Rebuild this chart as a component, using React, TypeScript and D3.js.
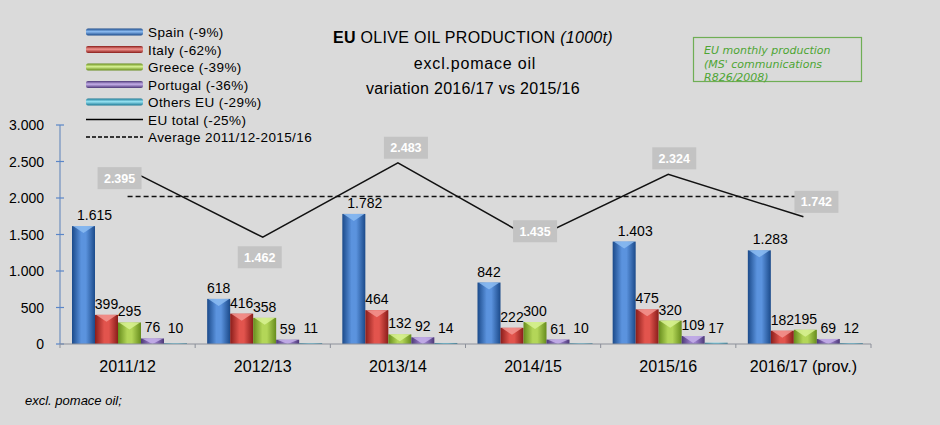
import React from 'react';
import * as d3 from 'd3';

const categories = ['2011/12', '2012/13', '2013/14', '2014/15', '2015/16', '2016/17 (prov.)'];
const spain = [1615, 618, 1782, 842, 1403, 1283];
const italy = [399, 416, 464, 222, 475, 182];
const greece = [295, 358, 132, 300, 320, 195];
const portugal = [76, 59, 92, 61, 109, 69];
const othersEU = [10, 11, 14, 10, 17, 12];
const euTotal = [2395, 1462, 2483, 1435, 2324, 1742];
const seriesNames = ['Spain (-9%)', 'Italy (-62%)', 'Greece (-39%)', 'Portugal (-36%)', 'Others EU (-29%)'];
const totalName = 'EU total (-25%)';
const averageName = 'Average 2011/12-2015/16';
const yTicks = [0, 500, 1000, 1500, 2000, 2500, 3000];

// cylinder colours: edge, centre, top highlight
const palette = [
  ['#1b4a8a', '#5b93de', '#8cbcf2'],
  ['#8a1d1a', '#e2544d', '#f39590'],
  ['#668c1c', '#b3d658', '#d8f293'],
  ['#4c3878', '#9b7fcb', '#c6b0ea'],
  ['#1a7894', '#52c4e0', '#97e3f3'],
];

// where the total labels sit relative to their point
const labelNudge = [[-8, 9], [-3, 20], [8, -15], [2, -8], [6, -16], [13, -15]];

const W = 940;
const H = 425;
const FONT = 'Liberation Sans, Arial, sans-serif';

const fmt = d3.formatLocale({ decimal: ',', thousands: '.', grouping: [3], currency: ['', ''] }).format(',');

export default function App() {
  const series = [spain, italy, greece, portugal, othersEU];
  const x = d3.scaleBand().domain(categories).range([60, 871]).padding(0);
  const inner = d3.scaleBand().domain(seriesNames).range([12, 127]).padding(0);
  const y = d3.scaleLinear().domain([0, 3000]).range([344, 125]);
  const avg = d3.mean(euTotal.slice(0, 5)) as number;
  const cx = (i: number) => (x(categories[i]) as number) + x.bandwidth() / 2;

  const line = d3.line<number>().x((_, i) => cx(i)).y((d) => y(d));

  return (
    <svg width={W} height={H} style={{ position: 'absolute', left: 0, top: 0 }} fontFamily={FONT}>
      <defs>
        {palette.map((c, i) => (
          <linearGradient key={i} id={`bar${i}`} x1="0" x2="1" y1="0" y2="0">
            <stop offset="0" stopColor={c[0]} />
            <stop offset="0.4" stopColor={c[1]} />
            <stop offset="0.6" stopColor={c[1]} />
            <stop offset="1" stopColor={c[0]} />
          </linearGradient>
        ))}
        {palette.map((c, i) => (
          <linearGradient key={i} id={`leg${i}`} x1="0" x2="0" y1="0" y2="1">
            <stop offset="0" stopColor={c[0]} />
            <stop offset="0.45" stopColor={c[2]} />
            <stop offset="1" stopColor={c[0]} />
          </linearGradient>
        ))}
      </defs>
      <rect width={W} height={H} fill="#dadada" />

      {/* title */}
      <text x={473} y={43} textAnchor="middle" fontSize={16} letterSpacing={0.3} fill="#000">
        <tspan fontWeight="bold">EU</tspan>
        <tspan> OLIVE OIL PRODUCTION </tspan>
        <tspan fontStyle="italic">(1000t)</tspan>
      </text>
      <text x={475} y={69} textAnchor="middle" fontSize={16} letterSpacing={0.8}>excl.pomace oil</text>
      <text x={473} y={94} textAnchor="middle" fontSize={16} letterSpacing={0.3}>variation 2016/17 vs 2015/16</text>

      {/* note box */}
      <rect x={693.5} y={37.5} width={168} height={44} fill="none" stroke="#6fae55" strokeWidth={1.2} />
      <g fontFamily="DejaVu Sans, Verdana, sans-serif" fontStyle="italic" fontSize={11} fill="#4ea534">
        <text x={704} y={54}>EU monthly production</text>
        <text x={704} y={68}>(MS' communications</text>
        <text x={704} y={81}>R826/2008)</text>
      </g>

      {/* legend */}
      <g fontSize={13.5} letterSpacing={0.4}>
        {seriesNames.map((n, i) => (
          <g key={n} transform={`translate(86,${32 + i * 17.5})`}>
            <rect x={0} y={-3.5} width={57} height={7} rx={2} fill={`url(#leg${i})`} />
            <text x={62} y={5}>{n}</text>
          </g>
        ))}
        <g transform={`translate(86,${32 + 5 * 17.5})`}>
          <line x1={0} x2={57} y1={0} y2={0} stroke="#000" strokeWidth={1.3} />
          <text x={62} y={5}>{totalName}</text>
        </g>
        <g transform={`translate(86,${32 + 6 * 17.5})`}>
          <line x1={0} x2={57} y1={0} y2={0} stroke="#000" strokeWidth={1.3} strokeDasharray="4 2" />
          <text x={62} y={5}>{averageName}</text>
        </g>
      </g>

      {/* y axis */}
      <line x1={60} x2={60} y1={y(3000)} y2={y(0)} stroke="#6f8fbf" strokeWidth={1.2} />
      {yTicks.map((t) => (
        <g key={t}>
          <line x1={56} x2={64} y1={y(t)} y2={y(t)} stroke="#5a86c8" strokeWidth={1.2} />
          <text x={44} y={y(t) + 5} textAnchor="end" fontSize={14}>{fmt(t)}</text>
        </g>
      ))}

      {/* bars */}
      {categories.map((c, ci) => (
        <g key={c} transform={`translate(${x(c)},0)`}>
          {series.map((s, si) => {
            const bx = inner(seriesNames[si]) as number;
            const bw = inner.bandwidth();
            const top = y(s[ci]);
            const h = y(0) - top;
            const tip = Math.min(7, h);
            return (
              <g key={si}>
                <rect x={bx} y={top} width={bw} height={h} fill={`url(#bar${si})`} />
                {h > 3 && (
                  <polygon
                    points={`${bx + 1},${top} ${bx + bw - 1},${top} ${bx + bw / 2},${top + tip}`}
                    fill={palette[si][2]}
                    opacity={0.85}
                  />
                )}
                <text
                  x={bx + bw / 2 + (s[ci] >= 1000 ? 11 : 0)}
                  y={top - (si === 4 ? 10 : 6)}
                  textAnchor="middle"
                  fontSize={14}
                >
                  {fmt(s[ci])}
                </text>
              </g>
            );
          })}
        </g>
      ))}

      {/* x axis */}
      <line x1={60} x2={871} y1={344} y2={344} stroke="#8b8f99" strokeWidth={1.2} />
      {d3.range(categories.length + 1).map((i) => (
        <line key={i} x1={60 + i * x.bandwidth()} x2={60 + i * x.bandwidth()} y1={344} y2={348} stroke="#8b8f99" />
      ))}
      {categories.map((c, i) => (
        <text key={c} x={cx(i)} y={372} textAnchor="middle" fontSize={16}>{c}</text>
      ))}

      {/* average and total lines */}
      <line x1={cx(0)} x2={cx(categories.length - 1)} y1={y(avg)} y2={y(avg)} stroke="#111" strokeWidth={1.5} strokeDasharray="5 3" />
      <path d={line(euTotal) as string} fill="none" stroke="#111" strokeWidth={1.5} />
      {euTotal.map((v, i) => {
        const bx = cx(i) + labelNudge[i][0];
        const by = y(v) + labelNudge[i][1];
        return (
          <g key={i}>
            <rect x={bx - 22} y={by - 11} width={44} height={22} fill="#c3c3c3" />
            <text x={bx} y={by + 4.5} textAnchor="middle" fontSize={12.5} fontWeight="bold" fill="#fff">{fmt(v)}</text>
          </g>
        );
      })}

      {/* footnote */}
      <text x={25} y={405} fontSize={13} fontStyle="italic">excl. pomace oil;</text>
    </svg>
  );
}
